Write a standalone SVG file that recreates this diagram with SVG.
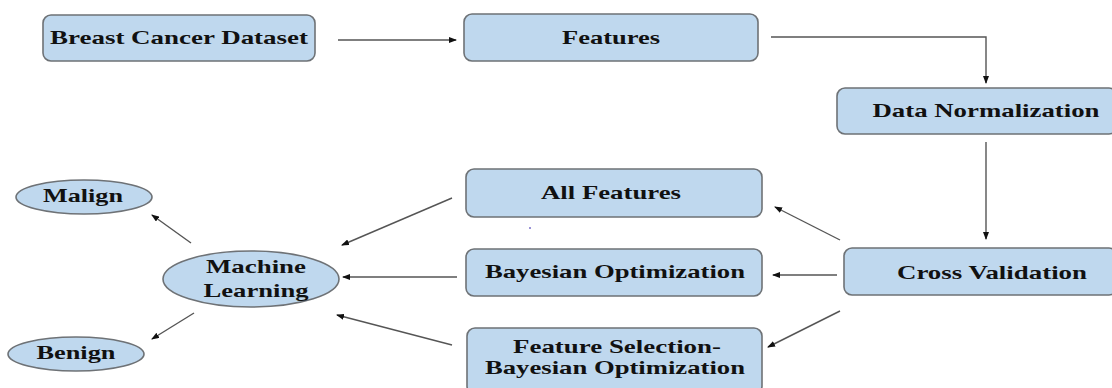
<svg xmlns="http://www.w3.org/2000/svg" width="1112" height="388" viewBox="0 0 1112 388">
<defs>
<style>
.box{fill:#bfd8ee;stroke:#6e7276;stroke-width:1.6}
.t{font-family:"Liberation Serif","Times New Roman",serif;font-weight:bold;font-size:19px;fill:#111;text-anchor:middle}
.c{stroke:#555;stroke-width:1.4;fill:none;marker-end:url(#ah)}
</style>
<marker id="ah" markerWidth="8" markerHeight="6" refX="7" refY="3" orient="auto" markerUnits="userSpaceOnUse">
<path d="M0,0 L8,3 L0,6 Z" fill="#111"/>
</marker>
</defs>
<rect width="1112" height="388" fill="#fff"/>
<g id="connectors">
<line class="c" x1="338" y1="40" x2="456" y2="40"/>
<polyline class="c" points="771,37 986,37 986,83"/>
<line class="c" x1="986" y1="142" x2="986" y2="239"/>
<line class="c" x1="840" y1="240" x2="775" y2="207"/>
<line class="c" x1="837" y1="275" x2="773" y2="275"/>
<line class="c" x1="840" y1="311" x2="768" y2="347"/>
<line class="c" x1="452" y1="198" x2="342" y2="245"/>
<line class="c" x1="457" y1="277" x2="343" y2="277"/>
<line class="c" x1="452" y1="345" x2="337" y2="315"/>
<line class="c" x1="191" y1="243" x2="152" y2="215"/>
<line class="c" x1="194" y1="313" x2="152" y2="339"/>
</g>
<g id="breast-cancer-dataset">
<rect class="box" x="43" y="15" width="272" height="46" rx="8"/>
<text class="t" x="179" y="44" textLength="258" lengthAdjust="spacingAndGlyphs">Breast Cancer Dataset</text>
</g>
<g id="features">
<rect class="box" x="464" y="14" width="294" height="47" rx="8"/>
<text class="t" x="611" y="44" textLength="98" lengthAdjust="spacingAndGlyphs">Features</text>
</g>
<g id="data-normalization">
<rect class="box" x="837" y="88" width="280" height="46" rx="8"/>
<text class="t" x="986" y="117" textLength="227" lengthAdjust="spacingAndGlyphs">Data Normalization</text>
</g>
<g id="cross-validation">
<rect class="box" x="844" y="248" width="273" height="47" rx="8"/>
<text class="t" x="992" y="279" textLength="190" lengthAdjust="spacingAndGlyphs">Cross Validation</text>
</g>
<g id="all-features">
<rect class="box" x="466" y="169" width="296" height="48" rx="8"/>
<text class="t" x="611" y="199" textLength="140" lengthAdjust="spacingAndGlyphs">All Features</text>
</g>
<circle cx="530" cy="228" r="1" fill="#7a70c8"/>
<g id="bayesian-optimization">
<rect class="box" x="466" y="249" width="296" height="47" rx="8"/>
<text class="t" x="615" y="278" textLength="260" lengthAdjust="spacingAndGlyphs">Bayesian Optimization</text>
</g>
<g id="feature-selection">
<rect class="box" x="467" y="328" width="295" height="66" rx="8"/>
<text class="t" x="617" y="353" textLength="208" lengthAdjust="spacingAndGlyphs">Feature Selection-</text>
<text class="t" x="615" y="374" textLength="260" lengthAdjust="spacingAndGlyphs">Bayesian Optimization</text>
</g>
<g id="machine-learning">
<ellipse class="box" cx="251" cy="279" rx="88" ry="28"/>
<text class="t" x="256" y="273" textLength="100" lengthAdjust="spacingAndGlyphs">Machine</text>
<text class="t" x="256" y="297" textLength="105" lengthAdjust="spacingAndGlyphs">Learning</text>
</g>
<g id="malign">
<ellipse class="box" cx="84" cy="197" rx="68" ry="17"/>
<text class="t" x="83" y="202" textLength="80" lengthAdjust="spacingAndGlyphs">Malign</text>
</g>
<g id="benign">
<ellipse class="box" cx="76" cy="354" rx="68" ry="17"/>
<text class="t" x="76" y="359" textLength="79" lengthAdjust="spacingAndGlyphs">Benign</text>
</g>
</svg>
